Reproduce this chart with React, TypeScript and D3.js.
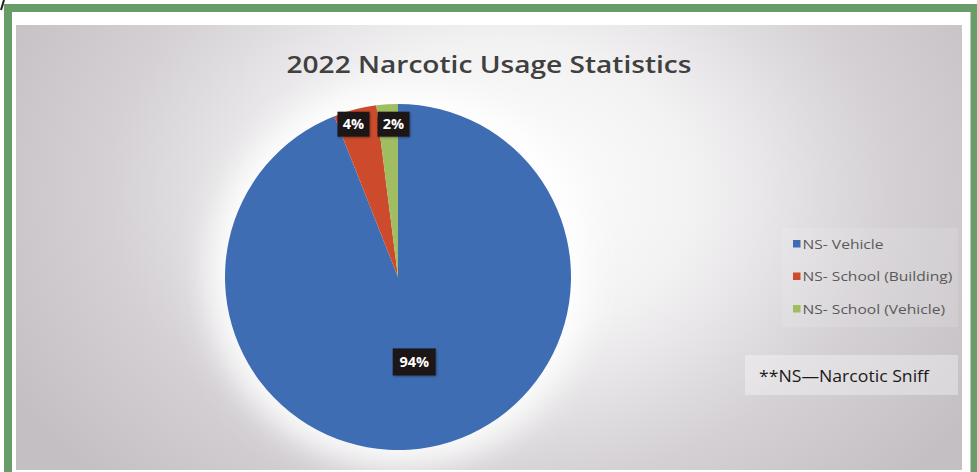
import React from "react";
import * as d3 from "d3";

const title = "2022 Narcotic Usage Statistics";
const categories = ["NS- Vehicle", "NS- School (Building)", "NS- School (Vehicle)"];
const values = [94, 4, 2];
const colors = ["#3e6db4", "#cc4b2c", "#a0bd62"];
const note = "**NS\u2014Narcotic Sniff";

const W = 977;
const H = 472;

export default function App() {
  const cx = 398;
  const cy = 277;
  const r = 173;

  const pie = d3.pie<number>().sort(null).value((d) => d).startAngle(0).endAngle(2 * Math.PI);
  const arcs = pie(values);
  const arc = d3.arc<d3.PieArcDatum<number>>().innerRadius(0).outerRadius(r);
  const total = d3.sum(values);
  const fmt = d3.format(".0%");

  // label placement
  const labels = arcs.map((a, i) => {
    const frac = a.value / total;
    const lr = frac > 0.2 ? r * 0.5 : r * 0.91;
    const mid = (a.startAngle + a.endAngle) / 2;
    const text = fmt(frac);
    const w = text.length === 3 ? 43 : 32;
    return { i, x: Math.sin(mid) * lr, y: -Math.cos(mid) * lr, text, w, h: frac > 0.2 ? 27 : 25 };
  });
  // resolve collisions between small labels
  const small = labels.filter((l) => l.h === 25).sort((a, b) => a.x - b.x);
  for (let k = 1; k < small.length; k++) {
    const a = small[k - 1];
    const b = small[k];
    const gap = b.x - b.w / 2 - (a.x + a.w / 2);
    const need = 8;
    if (gap < need) {
      const d = (need - gap) / 2;
      a.x -= d;
      b.x += d;
      const my = (a.y + b.y) / 2 + 2;
      a.y = my;
      b.y = my;
    }
  }

  const legendY = d3.scalePoint<string>().domain(categories).range([244, 309]);

  return (
    <svg width={W} height={H} style={{ position: "absolute", left: 0, top: 0, display: "block" }}>
      <defs>
        <radialGradient id="bg" gradientUnits="userSpaceOnUse" cx={500} cy={190} r={560} fx={500} fy={190} gradientTransform="translate(500 190) scale(1 0.75) translate(-500 -190)">
          <stop offset="0" stopColor="#ffffff" />
          <stop offset="0.35" stopColor="#f3f2f3" />
          <stop offset="0.7" stopColor="#d4d0d4" />
          <stop offset="1" stopColor="#c3bfc3" />
        </radialGradient>
        <filter id="glow" x="-50%" y="-50%" width="200%" height="200%">
          <feGaussianBlur stdDeviation="16" />
        </filter>
        <filter id="shadow" x="-30%" y="-30%" width="160%" height="160%">
          <feDropShadow dx="1" dy="1" stdDeviation="1" floodColor="#000" floodOpacity="0.35" />
        </filter>
      </defs>
      <rect x={0} y={0} width={W} height={H} fill="#ffffff" />
      <rect x={16} y={25} width={946} height={H - 27} fill="url(#bg)" />
      <circle cx={cx} cy={cy} r={r + 18} fill="#ffffff" opacity={0.9} filter="url(#glow)" />
      <path d={`M8,${H + 10} L8,8 L974.5,8 L974.5,${H + 10}`} fill="none" stroke="#689c68" strokeWidth={8} />
      <path d="M4,0 L1,10" stroke="#1e1e1e" strokeWidth={2} fill="none" />

      <text x={489} y={73} textAnchor="middle" fontFamily="'Open Sans', sans-serif" fontSize={24} fontWeight={600} fill="#404040" textLength={405} lengthAdjust="spacingAndGlyphs">
        {title}
      </text>

      <g transform={`translate(${cx},${cy})`}>
        {arcs.map((a, i) => (
          <path key={i} d={arc(a) || ""} fill={colors[i]} />
        ))}
        {labels.map((l) => (
          <g key={l.i} transform={`translate(${l.x},${l.y})`}>
            <rect x={-l.w / 2} y={-l.h / 2} width={l.w} height={l.h} fill="#1c1917" filter="url(#shadow)" />
            <text x={0} y={5} textAnchor="middle" fontFamily="'Open Sans', sans-serif" fontWeight={700} fontSize={14.5} fill="#ffffff">
              {l.text}
            </text>
          </g>
        ))}
      </g>

      <rect x={782} y={228} width={176} height={99} fill="#ffffff" opacity={0.12} />
      {categories.map((c, i) => (
        <g key={c} transform={`translate(793,${legendY(c)})`}>
          <rect x={0} y={-4} width={7.5} height={7.5} fill={colors[i]} />
          <text x={0} y={4.5} transform="translate(9.5,0) scale(1.2,1)" fontFamily="'Open Sans', sans-serif" fontSize={13} fill="#595959">
            {c}
          </text>
        </g>
      ))}

      <rect x={745} y={355} width={213} height={40} fill="#ffffff" opacity={0.35} />
      <text x={759} y={382} fontFamily="'Open Sans', sans-serif" fontSize={16} fill="#1a1a1a" textLength={170} lengthAdjust="spacingAndGlyphs">
        {note}
      </text>
    </svg>
  );
}
